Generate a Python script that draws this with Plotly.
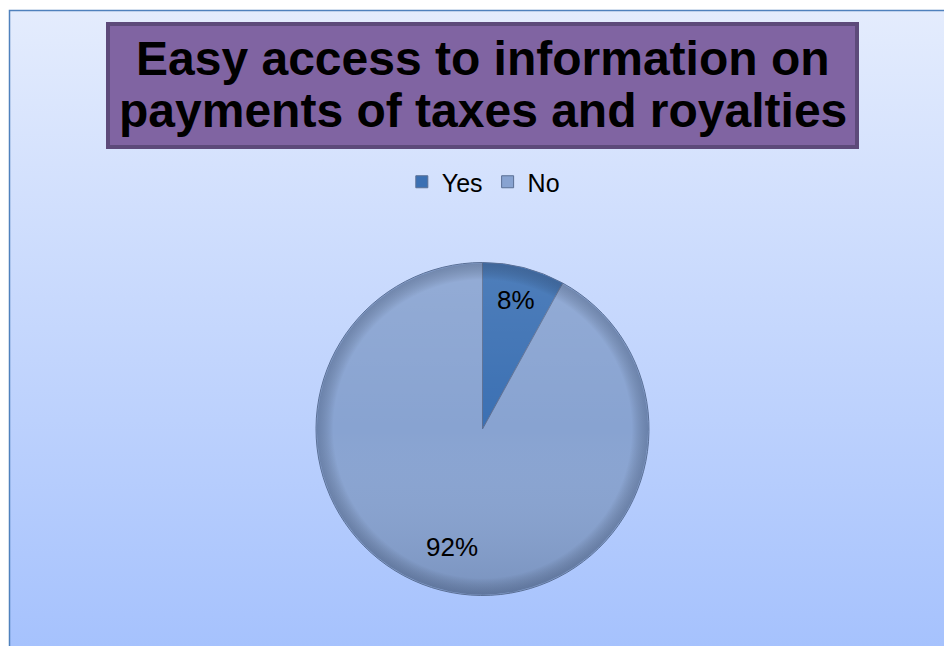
import base64
import math
import plotly.graph_objects as go

# Survey answers
categories = ["Yes", "No"]
shares = [8, 92]
slice_colors = ["#3b70b3", "#88a3d1"]

title_lines = ["Easy access to information on", "payments of taxes and royalties"]

W, H = 944, 646
FONT = "Arial, Liberation Sans, sans-serif"


def svg_uri(svg):
    return "data:image/svg+xml;base64," + base64.b64encode(svg.encode()).decode()


# Chart-area background: vertical blue gradient with a thin blue frame
bg_svg = f"""<svg xmlns='http://www.w3.org/2000/svg' width='{W}' height='{H}' viewBox='0 0 {W} {H}'>
<defs><linearGradient id='g' x1='0' y1='0' x2='0' y2='1'>
<stop offset='0' stop-color='#e4ecfd'/><stop offset='1' stop-color='#a3c0fd'/></linearGradient></defs>
<rect x='0' y='0' width='{W}' height='{H}' fill='#ffffff'/>
<rect x='9.5' y='10.5' width='{W + 20}' height='{H + 20}' fill='url(#g)' stroke='#4f81bd' stroke-width='1.5'/>
</svg>"""

# Pie geometry (pixels)
cx, cy, r = 482.5, 429, 166.5
pie_x = [(cx - r) / W, (cx + r) / W]
pie_y = [1 - (cy + r) / H, 1 - (cy - r) / H]

# Soft shading over the pie: lighter top, darker bottom, dark rim
shade_svg = """<svg xmlns='http://www.w3.org/2000/svg' width='200' height='200' viewBox='0 0 200 200'>
<defs>
<linearGradient id='s' x1='0' y1='0' x2='0' y2='1'>
<stop offset='0' stop-color='#ffffff' stop-opacity='0.10'/>
<stop offset='0.5' stop-color='#ffffff' stop-opacity='0'/>
<stop offset='1' stop-color='#1a2a4a' stop-opacity='0.14'/></linearGradient>
<radialGradient id='rim' cx='0.5' cy='0.5' r='0.5'>
<stop offset='0.9' stop-color='#000000' stop-opacity='0'/>
<stop offset='1' stop-color='#1c2b48' stop-opacity='0.28'/></radialGradient>
</defs>
<circle cx='100' cy='100' r='99.5' fill='url(#s)'/>
<circle cx='100' cy='100' r='99.5' fill='url(#rim)'/>
</svg>"""

fig = go.Figure(
    go.Pie(
        labels=categories,
        values=shares,
        sort=False,
        direction="clockwise",
        rotation=0,
        marker=dict(colors=slice_colors, line=dict(color="#5a6f95", width=1)),
        textinfo="none",
        hoverinfo="skip",
        domain=dict(x=pie_x, y=pie_y),
    )
)

# Percentage labels, placed at each slice's mid-angle (clockwise from 12 o'clock)
total = sum(shares)
label_radius = [0.80, 0.73]
start = 0.0
for val, rf in zip(shares, label_radius):
    frac = val / total
    mid = 2 * math.pi * (start + frac / 2)
    lx = cx + rf * r * math.sin(mid)
    ly = cy - rf * r * math.cos(mid)
    fig.add_annotation(
        text=f"{round(frac * 100)}%", xref="paper", yref="paper",
        x=lx / W, y=1 - ly / H, xanchor="center", yanchor="middle", showarrow=False,
        font=dict(family=FONT, size=26, color="#000000"),
    )
    start += frac

# Title box
bx0, bx1, by0, by1 = 108, 857, 24, 147
fig.add_shape(
    type="rect", xref="paper", yref="paper",
    x0=bx0 / W, x1=bx1 / W, y0=1 - by1 / H, y1=1 - by0 / H,
    fillcolor="#8064a2", line=dict(color="#5d4a7a", width=4), layer="above",
)
for line, yc in zip(title_lines, [59, 111]):
    fig.add_annotation(
        text=line,
        xref="paper", yref="paper", x=(bx0 + bx1) / 2 / W, y=1 - yc / H,
        xanchor="center", yanchor="middle", showarrow=False,
        font=dict(family=FONT, size=48, color="#000000", weight="bold"),
    )

fig.update_layout(
    width=W, height=H,
    margin=dict(l=0, r=0, t=0, b=0),
    paper_bgcolor="rgba(0,0,0,0)",
    plot_bgcolor="rgba(0,0,0,0)",
    showlegend=True,
    legend=dict(
        orientation="h", x=0.512, y=1 - 182 / H, xanchor="center", yanchor="middle",
        font=dict(family=FONT, size=25, color="#000000"),
        bgcolor="rgba(0,0,0,0)", itemwidth=30, traceorder="normal",
    ),
    images=[
        dict(source=svg_uri(bg_svg), xref="paper", yref="paper", x=0, y=1,
             sizex=1, sizey=1, sizing="stretch", xanchor="left", yanchor="top", layer="below"),
        dict(source=svg_uri(shade_svg), xref="paper", yref="paper", x=pie_x[0], y=pie_y[1],
             sizex=pie_x[1] - pie_x[0], sizey=pie_y[1] - pie_y[0], sizing="stretch",
             xanchor="left", yanchor="top", layer="above"),
    ],
)

fig.write_html("out.html")
